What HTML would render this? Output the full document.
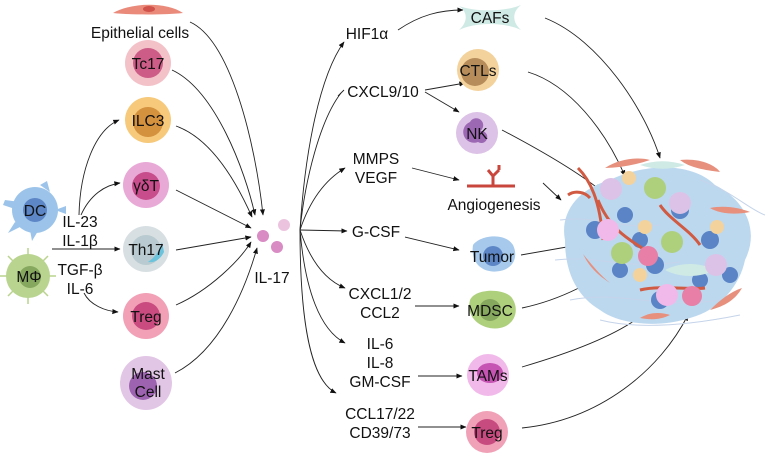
<!DOCTYPE html>
<html><head><meta charset="utf-8"><style>
html,body{margin:0;padding:0;background:#fff}
svg{display:block}
text{font-family:"Liberation Sans",sans-serif;font-size:15.5px;fill:#111}
</style></head><body>
<svg width="768" height="457" viewBox="0 0 768 457" xmlns="http://www.w3.org/2000/svg">
<defs>
<marker id="a" viewBox="0 0 10 10" refX="9" refY="5" markerWidth="7" markerHeight="7" orient="auto"><path d="M0,1 L10,5 L0,9 z" fill="#111"/></marker>
</defs>
<g fill="none" stroke="#222" stroke-width="0.9" marker-end="url(#a)">
<path d="M190,22 C230,40 255,140 263,215"/>
<path d="M172,70 C215,90 245,170 255,215"/>
<path d="M176,126 C215,140 240,190 252,217"/>
<path d="M176,190 L251,228"/>
<path d="M176,250 L251,237"/>
<path d="M176,305 C210,290 240,260 251,242"/>
<path d="M175,373 C220,350 245,290 257,248"/>
<path d="M79,215 C80,170 95,130 119,120"/>
<path d="M81,215 C90,195 105,185 120,183"/>
<path d="M52,249 L120,249"/>
<path d="M84,293 C90,305 105,311 118,312"/>
<path d="M300,230 C305,150 320,75 344,42"/>
<path d="M300,230 C305,180 320,120 341,93" marker-end="none"/>
<path d="M300,230 C310,200 325,180 345,168"/>
<path d="M300,230 L347,231"/>
<path d="M300,230 C310,260 325,280 345,288"/>
<path d="M300,230 C305,290 320,330 345,343"/>
<path d="M300,230 C300,320 310,380 336,393"/>
<path d="M398,30 C420,15 440,10 463,10"/>
<path d="M425,90 L465,83"/>
<path d="M425,92 L459,112"/>
<path d="M412,168 L459,180"/>
<path d="M405,237 L459,250"/>
<path d="M415,306 L459,306"/>
<path d="M418,376 L462,376"/>
<path d="M418,427 L466,427"/>
<path d="M545,18 C600,40 645,110 660,158"/>
<path d="M528,72 C570,85 605,130 625,176"/>
<path d="M502,130 C540,150 575,170 600,190"/>
<path d="M543,183 L561,200"/>
<path d="M521,255 L584,244"/>
<path d="M522,308 C560,300 600,280 620,260"/>
<path d="M522,367 C580,350 630,330 652,306"/>
<path d="M522,428 C600,420 660,370 688,315"/>
</g>
<path d="M341,93 l-3,3 l6,-6" stroke="#222" fill="none" stroke-width="0.9"/>
<path d="M113,13 C130,3 165,1 183,13 C165,15 130,15 113,13 z" fill="#e98a7b"/>
<ellipse cx="149" cy="9" rx="6" ry="3" fill="#d0524a"/>
<text x="140" y="38" text-anchor="middle">Epithelial cells</text>
<g><circle cx="148" cy="63" r="23" fill="#f3c2c9"/><circle cx="148" cy="63" r="15" fill="#cd5d86"/><text x="148" y="69" text-anchor="middle" font-size="16">Tc17</text></g>
<g><circle cx="148" cy="120" r="23" fill="#f6c97b"/><circle cx="148" cy="122" r="15" fill="#d4913e"/><text x="148" y="126" text-anchor="middle" font-size="16">ILC3</text></g>
<g><circle cx="146" cy="185" r="23" fill="#e9a9d6"/><circle cx="146" cy="186" r="14" fill="#c84d8c"/><text x="146" y="191" text-anchor="middle" font-size="16">γδT</text></g>
<g><circle cx="146" cy="249" r="23" fill="#d8dfe2"/><circle cx="146" cy="250" r="15" fill="#b9cbd0"/><path d="M148,262 C158,255 160,248 162,242 L164,252 C160,260 154,263 148,262z" fill="#6cc3dc"/><text x="146" y="255" text-anchor="middle" font-size="16">Th17</text></g>
<g><circle cx="146" cy="316" r="23" fill="#f1a0b6"/><circle cx="146" cy="316" r="14" fill="#c94b80"/><text x="146" y="322" text-anchor="middle" font-size="16">Treg</text></g>
<g><ellipse cx="146" cy="383" rx="26" ry="27" fill="#e2c6e6"/><circle cx="143" cy="386" r="14" fill="#9e63b0"/><text x="148" y="379" text-anchor="middle" font-size="16">Mast</text><text x="148" y="397" text-anchor="middle" font-size="16">Cell</text></g>
<g fill="#9cc4ea"><circle cx="35" cy="210" r="23"/><path d="M5,200 L20,202 L18,210 L3,205z"/><path d="M40,185 L47,181 L50,192z"/><path d="M55,210 L66,206 L66,214z"/><path d="M30,230 L32,241 L38,231z"/><path d="M15,222 L8,233 L22,226z"/></g>
<circle cx="35" cy="210" r="12" fill="#5d86c6"/>
<text x="35" y="216" text-anchor="middle" font-size="16">DC</text>
<g fill="#b8d48e"><circle cx="28" cy="276" r="22"/></g>
<g stroke="#b8d48e" stroke-width="1.5"><path d="M28,248 V304 M0,276 H56 M8,256 L48,296 M48,256 L8,296"/></g>
<circle cx="30" cy="277" r="11" fill="#86a75e"/>
<text x="29" y="282" text-anchor="middle" font-size="16">MΦ</text>
<text x="80" y="227" text-anchor="middle">IL-23</text>
<text x="80" y="246" text-anchor="middle">IL-1β</text>
<text x="80" y="275" text-anchor="middle">TGF-β</text>
<text x="80" y="294" text-anchor="middle">IL-6</text>
<circle cx="263" cy="236" r="6" fill="#d98bc3"/><circle cx="284" cy="225" r="6" fill="#ecc3df"/><circle cx="277" cy="247" r="6" fill="#d98bc3"/>
<text x="272" y="283" text-anchor="middle">IL-17</text>
<text x="367" y="39" text-anchor="middle">HIF1α</text>
<text x="383" y="97" text-anchor="middle">CXCL9/10</text>
<text x="376" y="164" text-anchor="middle">MMPS</text>
<text x="376" y="183" text-anchor="middle">VEGF</text>
<text x="376" y="237" text-anchor="middle">G-CSF</text>
<text x="380" y="299" text-anchor="middle">CXCL1/2</text>
<text x="380" y="318" text-anchor="middle">CCL2</text>
<text x="380" y="349" text-anchor="middle">IL-6</text>
<text x="380" y="368" text-anchor="middle">IL-8</text>
<text x="380" y="387" text-anchor="middle">GM-CSF</text>
<text x="380" y="419" text-anchor="middle">CCL17/22</text>
<text x="380" y="438" text-anchor="middle">CD39/73</text>
<path d="M459,6 C475,12 505,12 521,5 C512,12 512,22 521,30 C505,22 475,22 459,30 C468,22 468,12 459,6z" fill="#cfeae4"/>
<text x="490" y="23" text-anchor="middle" font-size="16">CAFs</text>
<circle cx="478" cy="70" r="21" fill="#f3d29c"/><circle cx="475" cy="72" r="14" fill="#b68c5b"/><text x="478" y="76" text-anchor="middle" font-size="16">CTLs</text>
<circle cx="477" cy="133" r="21" fill="#dcc2e6"/><path d="M470,122 a7,7 0 1 1 8,10 a6,6 0 1 1 0,10 a7,7 0 1 1 -8,-20z" fill="#9c67b3"/><text x="477" y="139" text-anchor="middle" font-size="16">NK</text>
<path d="M467,186 H515 M493,186 V176 L488,170 M493,176 L499,170 M499,170 L499,165" stroke="#c9463c" stroke-width="3" fill="none"/>
<text x="494" y="210" text-anchor="middle">Angiogenesis</text>
<path d="M473,245 C480,235 505,232 513,245 C518,255 515,268 500,271 C485,274 470,265 473,245z" fill="#a6c9ec"/><circle cx="493" cy="256" r="10" fill="#5d86c6"/><text x="492" y="262" text-anchor="middle" font-size="16">Tumor</text>
<path d="M470,300 C475,288 505,288 512,298 C520,310 515,325 500,328 C485,331 465,320 470,300z" fill="#aed07d"/><circle cx="490" cy="310" r="11" fill="#86a75e"/><text x="490" y="316" text-anchor="middle" font-size="16">MDSC</text>
<circle cx="488" cy="375" r="21" fill="#f1b9ea"/><ellipse cx="490" cy="373" rx="13" ry="10" fill="#c554b3"/><text x="488" y="381" text-anchor="middle" font-size="16">TAMs</text>
<circle cx="487" cy="432" r="21" fill="#f0a1b7"/><circle cx="487" cy="432" r="13" fill="#c84b80"/><text x="487" y="438" text-anchor="middle" font-size="16">Treg</text>
<g>
<path d="M565,240 C560,215 575,190 610,180 C640,165 690,160 715,185 C745,200 760,230 745,260 C740,285 720,310 690,318 C660,328 620,325 600,310 C575,295 565,270 565,240z" fill="#bcd8ef"/>
<g stroke="#c5d4ea" stroke-width="1" fill="none">
<path d="M560,220 C600,215 620,230 660,225"/><path d="M555,260 C600,255 620,270 680,262"/><path d="M570,300 C620,290 660,310 720,300"/><path d="M700,180 C730,190 750,210 765,215"/><path d="M600,320 C640,330 690,325 740,315"/></g>
<g fill="#5b84c6">
<circle cx="595" cy="230" r="9"/><circle cx="625" cy="215" r="8"/><circle cx="680" cy="210" r="9"/><circle cx="710" cy="240" r="9"/><circle cx="655" cy="265" r="9"/><circle cx="620" cy="270" r="8"/><circle cx="700" cy="280" r="8"/><circle cx="660" cy="300" r="9"/><circle cx="730" cy="275" r="8"/><circle cx="640" cy="240" r="8"/></g>
<g stroke="#d05a42" stroke-width="3" fill="none"><path d="M578,168 C590,180 600,200 603,240"/><path d="M598,200 C610,230 630,240 645,250"/><path d="M660,205 C670,220 690,230 700,245"/><path d="M640,290 C660,285 690,290 705,288"/><path d="M568,195 C575,190 585,192 590,198"/></g>
<g fill="#e7907d"><path d="M605,168 C620,158 640,157 650,160 C635,165 620,168 605,168z"/><path d="M680,160 C700,158 715,165 720,172 C705,170 690,168 680,160z"/><path d="M710,208 C725,205 740,208 750,212 C735,215 720,214 710,208z"/><path d="M583,254 C592,265 600,275 610,283 C598,275 590,268 583,254z"/><path d="M710,310 C720,300 730,292 742,288 C735,300 725,306 710,310z"/><path d="M640,318 C650,312 660,312 670,315 C660,320 650,320 640,318z"/></g>
<path d="M640,165 C655,160 670,160 685,165 C670,170 655,170 640,165z" fill="#cfeae4"/>
<path d="M665,270 C680,262 700,262 715,270 C700,278 680,278 665,270z" fill="#cfeae4"/>
<g fill="#aed07d"><circle cx="655" cy="188" r="11"/><circle cx="672" cy="242" r="11"/><circle cx="622" cy="253" r="11"/></g>
<g fill="#dcc2e6"><circle cx="611" cy="189" r="11"/><circle cx="680" cy="203" r="11"/><circle cx="716" cy="265" r="11"/></g>
<g fill="#f1b9ea"><circle cx="608" cy="230" r="11"/><circle cx="667" cy="295" r="11"/></g>
<g fill="#e77fa6"><circle cx="648" cy="256" r="10"/><circle cx="692" cy="296" r="10"/></g>
<g fill="#f3d29c"><circle cx="629" cy="178" r="7"/><circle cx="645" cy="227" r="7"/><circle cx="717" cy="227" r="7"/><circle cx="640" cy="275" r="7"/></g>
</g>
</svg>
</body></html>
